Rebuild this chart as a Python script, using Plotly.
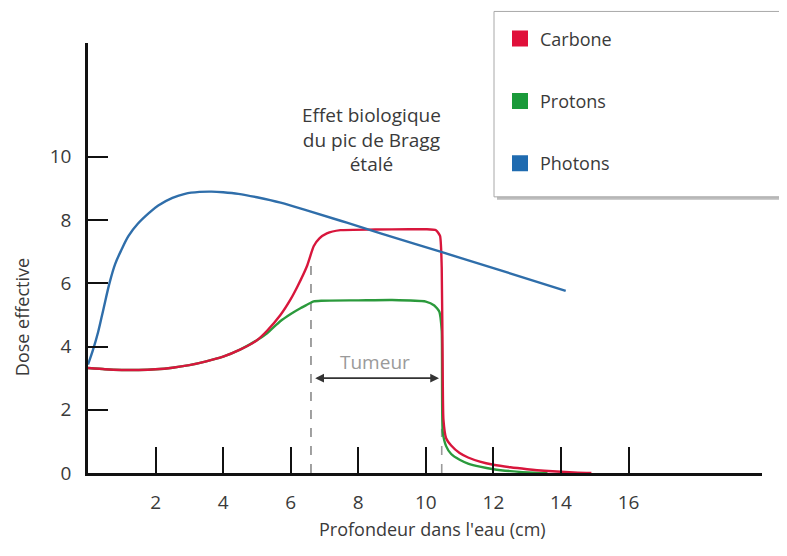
import plotly.graph_objects as go

# ---------------- data ----------------
photon_x = [0, 0.15, 0.3, 0.45, 0.64, 0.8, 0.99, 1.2, 1.48, 1.8, 2.08, 2.5, 2.87, 3.3, 3.66,
            4.0, 4.45, 5.0, 5.7, 6.5, 7.5, 8.66, 10.43, 12.0, 14.14]
photon_y = [3.43, 3.9, 4.46, 5.15, 6.02, 6.6, 7.06, 7.5, 7.89, 8.22, 8.46, 8.7, 8.83, 8.89, 8.9,
            8.88, 8.83, 8.72, 8.55, 8.3, 7.97, 7.58, 7.0, 6.48, 5.76]

carbon_x = [0, 0.5, 1.0, 1.5, 2.0, 2.5, 3.0, 3.5, 4.0, 4.5, 5.0, 5.3, 5.69, 6.0, 6.2, 6.48,
            6.68, 6.85, 7.07, 7.47, 8.5, 9.5, 10.0, 10.3, 10.42, 10.47, 10.5, 10.52, 10.6,
            10.75, 11.0, 11.25, 11.6, 12.0, 12.5, 13.0, 13.5, 14.0, 14.5, 14.9]
carbon_y = [3.32, 3.28, 3.26, 3.26, 3.28, 3.33, 3.41, 3.53, 3.68, 3.9, 4.2, 4.5, 4.99, 5.5, 5.9,
            6.54, 7.17, 7.42, 7.58, 7.68, 7.7, 7.71, 7.71, 7.68, 7.5, 6.5, 3.0, 1.7, 1.1,
            0.87, 0.63, 0.49, 0.36, 0.26, 0.18, 0.12, 0.07, 0.04, 0.01, 0]

proton_x = [0, 0.5, 1.0, 1.5, 2.0, 2.5, 3.0, 3.5, 4.0, 4.5, 5.0, 5.3, 5.69, 6.0, 6.3, 6.48,
            6.68, 6.9, 8.0, 9.0, 10.0, 10.25, 10.4, 10.47, 10.5, 10.6, 10.75, 11.0, 11.25, 11.6,
            12.0, 12.5, 13.2, 13.6]
proton_y = [3.32, 3.28, 3.26, 3.26, 3.28, 3.33, 3.41, 3.53, 3.68, 3.9, 4.2, 4.42, 4.8, 5.03, 5.22,
            5.32, 5.43, 5.45, 5.46, 5.47, 5.42, 5.3, 5.1, 4.5, 1.3, 0.85, 0.6, 0.42, 0.3, 0.2,
            0.12, 0.06, 0.01, 0]

tumor_start, tumor_end = 6.6, 10.47
tumor_top = 6.55
tumor_tail_top = 1.4
arrow_y = 3.0

x_ticks = [2, 4, 6, 8, 10, 12, 14, 16]
y_ticks = [0, 2, 4, 6, 8, 10]

labels = ["Carbone", "Protons", "Photons"]
RED, GREEN, BLUE = "#d8163c", "#2b9a3c", "#2f6eaa"
LEG_COLORS = ["#e0103a", "#1a9a3a", "#1f6bb0"]

FONT = "Open Sans, sans-serif"
TXT = "#3a3a3a"

fig = go.Figure()

# dashed tumour limits
fig.add_trace(go.Scatter(x=[tumor_start, tumor_start], y=[0, tumor_top], mode="lines",
                         line=dict(color="#8a8a8a", width=1.6, dash="dash"),
                         showlegend=False, hoverinfo="skip"))
fig.add_trace(go.Scatter(x=[tumor_end, tumor_end], y=[0, tumor_tail_top], mode="lines",
                         line=dict(color="#9a9a9a", width=1.6, dash="dash"),
                         showlegend=False, hoverinfo="skip"))

fig.add_trace(go.Scatter(x=proton_x, y=proton_y, mode="lines",
                         line=dict(color=GREEN, width=2.4, shape="spline", smoothing=0.5),
                         showlegend=False))
fig.add_trace(go.Scatter(x=carbon_x, y=carbon_y, mode="lines",
                         line=dict(color=RED, width=2.4, shape="spline", smoothing=0.5),
                         showlegend=False))
fig.add_trace(go.Scatter(x=photon_x, y=photon_y, mode="lines",
                         line=dict(color=BLUE, width=2.4, shape="spline", smoothing=1.0),
                         showlegend=False))

# legend entries (square swatches)
for lab, col in zip(labels, LEG_COLORS):
    fig.add_trace(go.Scatter(x=[None], y=[None], mode="markers", name=lab,
                             legendgroup=lab,
                             marker=dict(symbol="square", size=18, color=col)))

OFF = 8  # page body margin
W, H = 787 - OFF, 556 - OFF
L, R, T, B = 80, 25, 29, 83
pw, ph = W - L - R, H - T - B

def px2paper(px, py):
    px -= OFF
    py -= OFF
    return (px - L) / pw, (H - B - py) / ph

# legend box (with light shadow)
x0, y0 = px2paper(494, 5)
x1, y1 = px2paper(781, 193)
sx0, sy0 = px2paper(497, 8)
sx1, sy1 = px2paper(784, 196)
shapes = [
    dict(type="rect", xref="paper", yref="paper", x0=sx0, y0=sy1, x1=sx1, y1=sy0,
         line=dict(width=0), fillcolor="#bdbdbd", layer="above"),
    dict(type="rect", xref="paper", yref="paper", x0=x0, y0=y1, x1=x1, y1=y0,
         line=dict(color="#a8a8a8", width=1), fillcolor="white", layer="above"),
]

lx, ly = px2paper(500, 14)

annotations = [
    dict(x=8.4, y=9.3, xref="x", yref="y", text="Effet biologique<br>du pic de Bragg<br>étalé",
         showarrow=False, font=dict(family=FONT, size=19, color=TXT), yanchor="bottom",
         align="center"),
    dict(x=tumor_end - 0.08, y=arrow_y, ax=tumor_start + 0.08, ay=arrow_y,
         xref="x", yref="y", axref="x", ayref="y", text="", showarrow=True,
         arrowhead=2, arrowside="end+start", arrowsize=1.1, arrowwidth=1.6, arrowcolor="#333333"),
    dict(x=8.5, y=arrow_y + 0.05, xref="x", yref="y", text="Tumeur", showarrow=False,
         yanchor="bottom", font=dict(family=FONT, size=19, color="#9a9a9a")),
]
ax_, ay_ = px2paper(22, 315)
annotations.append(dict(x=ax_, y=ay_, xref="paper", yref="paper", text="Dose effective",
                        textangle=-90, showarrow=False, font=dict(family=FONT, size=18, color=TXT),
                        xanchor="center", yanchor="middle"))
bx_, by_ = px2paper(432, 530)
annotations.append(dict(x=bx_, y=by_, xref="paper", yref="paper",
                        text="Profondeur dans l'eau (cm)", showarrow=False,
                        font=dict(family=FONT, size=18, color=TXT),
                        xanchor="center", yanchor="middle"))

fig.update_layout(
    width=W, height=H,
    margin=dict(l=L, r=R, t=T, b=B, pad=0),
    paper_bgcolor="white", plot_bgcolor="white",
    font=dict(family=FONT, size=18, color=TXT),
    shapes=shapes,
    annotations=annotations,
    showlegend=True,
    legend=dict(x=lx, y=ly, xanchor="left", yanchor="top", bgcolor="rgba(0,0,0,0)",
                borderwidth=0, traceorder="grouped", tracegroupgap=36,
                font=dict(family=FONT, size=18, color=TXT)),
    xaxis=dict(range=[0, 19.95], showgrid=False, zeroline=False, showline=True,
               linecolor="#111111", linewidth=2.6, ticks="inside", ticklen=26,
               tickwidth=2.4, tickcolor="#111111", tickvals=x_ticks,
               ticktext=[str(v) for v in x_ticks], ticklabelstandoff=10,
               tickfont=dict(family=FONT, size=19, color=TXT)),
    yaxis=dict(range=[0, 13.6], showgrid=False, zeroline=False, showline=True,
               linecolor="#111111", linewidth=2.6, ticks="inside", ticklen=20,
               tickwidth=2.4, tickcolor="#111111", tickvals=y_ticks,
               ticktext=[str(v) for v in y_ticks], ticklabelstandoff=10,
               tickfont=dict(family=FONT, size=19, color=TXT)),
)

fig.write_html("out.html")
